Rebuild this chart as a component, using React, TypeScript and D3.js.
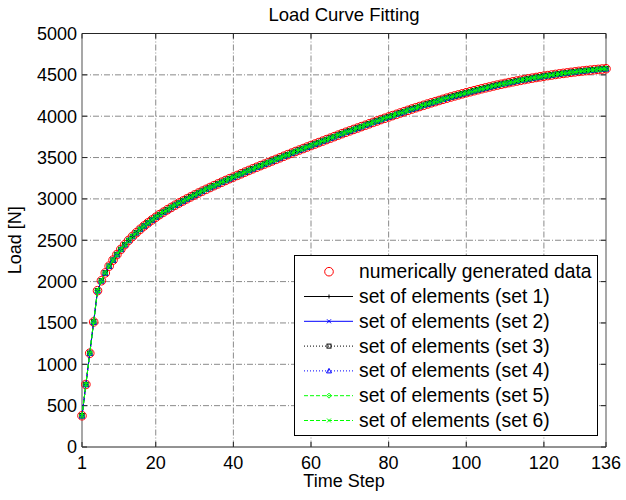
import React from 'react';
import * as d3 from 'd3';

// ---- data ----
const timeSteps: number[] = d3.range(1, 137);
const loadData: number[] = [
  378, 756, 1134, 1512, 1890, 2010, 2105, 2187, 2260, 2327,
  2389, 2446, 2498, 2546, 2591, 2633, 2673, 2710, 2745, 2778,
  2810, 2840, 2869, 2897, 2924, 2950, 2975, 3000, 3024, 3048,
  3071, 3094, 3116, 3138, 3160, 3181, 3202, 3223, 3244, 3264,
  3284, 3304, 3324, 3344, 3364, 3383, 3402, 3421, 3440, 3459,
  3478, 3497, 3516, 3535, 3554, 3573, 3591, 3609, 3627, 3645,
  3663, 3681, 3699, 3717, 3735, 3753, 3771, 3789, 3806, 3823,
  3840, 3857, 3874, 3891, 3908, 3925, 3942, 3959, 3975, 3991,
  4007, 4023, 4039, 4055, 4071, 4087, 4102, 4117, 4132, 4147,
  4162, 4176, 4190, 4204, 4218, 4232, 4245, 4258, 4271, 4284,
  4296, 4308, 4320, 4332, 4343, 4354, 4365, 4376, 4386, 4396,
  4406, 4416, 4425, 4434, 4443, 4452, 4460, 4468, 4476, 4484,
  4491, 4498, 4505, 4512, 4518, 4524, 4530, 4536, 4542, 4547,
  4552, 4557, 4562, 4566, 4570, 4574,
];
// fitted element sets coincide with the generated data at this resolution
const set1: number[] = loadData;
const set2: number[] = loadData;
const set3: number[] = loadData;
const set4: number[] = loadData;
const set5: number[] = loadData;
const set6: number[] = loadData;

const xTicks: number[] = [1, 20, 40, 60, 80, 100, 120, 136];
const yTicks: number[] = [0, 500, 1000, 1500, 2000, 2500, 3000, 3500, 4000, 4500, 5000];
const dataLabel = 'numerically generated data';
const setLabels: string[] = [
  'set of elements (set 1)',
  'set of elements (set 2)',
  'set of elements (set 3)',
  'set of elements (set 4)',
  'set of elements (set 5)',
  'set of elements (set 6)',
];

type MarkerKind = 'plus' | 'x' | 'square' | 'triangle' | 'diamond' | 'circle';
interface SetStyle { values: number[]; color: string; dash: string; marker: MarkerKind; }
const setStyles: SetStyle[] = [
  { values: set1, color: '#000000', dash: '', marker: 'plus' },
  { values: set2, color: '#0000ff', dash: '', marker: 'x' },
  { values: set3, color: '#000000', dash: '1,2', marker: 'square' },
  { values: set4, color: '#0000ff', dash: '1,2', marker: 'triangle' },
  { values: set5, color: '#00ff00', dash: '4,2', marker: 'diamond' },
  { values: set6, color: '#00ff00', dash: '4,2', marker: 'x' },
];

const W = 626, H = 500;
const L = 82, R = 606, T = 33.5, B = 447;
const FONT = '"Liberation Sans", Arial, Helvetica, sans-serif';

function Marker({ kind, cx, cy, color, s = 2.2 }: { kind: MarkerKind; cx: number; cy: number; color: string; s?: number }) {
  const common = { stroke: color, strokeWidth: 1, fill: 'none' };
  switch (kind) {
    case 'plus':
      return <path d={`M${cx - s},${cy}H${cx + s}M${cx},${cy - s}V${cy + s}`} {...common} />;
    case 'x':
      return <path d={`M${cx - s},${cy - s}L${cx + s},${cy + s}M${cx - s},${cy + s}L${cx + s},${cy - s}`} {...common} />;
    case 'square':
      return <rect x={cx - s} y={cy - s} width={2 * s} height={2 * s} {...common} />;
    case 'triangle':
      return <path d={`M${cx},${cy - s - 0.5}L${cx + s + 0.5},${cy + s}L${cx - s - 0.5},${cy + s}Z`} {...common} />;
    case 'diamond':
      return <path d={`M${cx},${cy - s - 0.5}L${cx + s + 0.5},${cy}L${cx},${cy + s + 0.5}L${cx - s - 0.5},${cy}Z`} {...common} />;
    case 'circle':
      return <circle cx={cx} cy={cy} r={s} {...common} />;
  }
  return null;
}

export default function App() {
  const x = d3.scaleLinear().domain([1, 136]).range([L, R]);
  const y = d3.scaleLinear().domain([0, 5000]).range([B, T]);
  const line = d3.line<number>().x((_, i) => x(timeSteps[i])).y((d) => y(d));

  const gridColor = '#8a8a8a';
  const gridDash = '6,2,1,2';

  const legX = 294.5, legY = 255.5, legW = 303, legH = 180;
  const rowY0 = 271.7, rowDy = 24.8;
  const sampleX0 = 304, sampleX1 = 353, sampleMid = 329, textX = 359;

  return (
    <svg width={W} height={H} style={{ position: 'absolute', left: 0, top: 0, background: '#fff' }} fontFamily={FONT}>
      <rect x={0} y={0} width={W} height={H} fill="#fff" />
      {/* grid */}
      {xTicks.filter((t) => t !== 1 && t !== 136).map((t) => (
        <line key={'gx' + t} x1={x(t)} x2={x(t)} y1={T} y2={B} stroke={gridColor} strokeDasharray={gridDash} strokeWidth={1} />
      ))}
      {yTicks.filter((t) => t !== 0 && t !== 5000).map((t) => (
        <line key={'gy' + t} x1={L} x2={R} y1={y(t)} y2={y(t)} stroke={gridColor} strokeDasharray={gridDash} strokeWidth={1} />
      ))}
      {/* axes box */}
      <line x1={L} x2={R} y1={T} y2={T} stroke="#262626" strokeWidth={1} />
      <line x1={L} x2={R} y1={B} y2={B} stroke="#262626" strokeWidth={1} />
      <line x1={L} x2={L} y1={T} y2={B} stroke="#8a8a8a" strokeWidth={1.5} />
      <line x1={R} x2={R} y1={T} y2={B} stroke="#8a8a8a" strokeWidth={1.5} />
      {/* ticks */}
      {xTicks.map((t) => (
        <g key={'tx' + t}>
          <line x1={x(t)} x2={x(t)} y1={B} y2={B - 5} stroke="#262626" />
          <line x1={x(t)} x2={x(t)} y1={T} y2={T + 5} stroke="#262626" />
          <text x={x(t)} y={468.5} fontSize={18} textAnchor="middle" fill="#000">{t}</text>
        </g>
      ))}
      {yTicks.map((t) => (
        <g key={'ty' + t}>
          <line x1={L} x2={L + 5} y1={y(t)} y2={y(t)} stroke="#262626" />
          <line x1={R} x2={R - 5} y1={y(t)} y2={y(t)} stroke="#262626" />
          <text x={77} y={y(t) + 6.3} fontSize={18} textAnchor="end" fill="#000">{t}</text>
        </g>
      ))}
      {/* title and labels */}
      <text x={(L + R) / 2} y={20.7} fontSize={18.5} textAnchor="middle" fill="#000">Load Curve Fitting</text>
      <text x={(L + R) / 2} y={487} fontSize={18} textAnchor="middle" fill="#000">Time Step</text>
      <text transform={`translate(21,${(T + B) / 2}) rotate(-90)`} fontSize={18} textAnchor="middle" fill="#000">Load [N]</text>

      {/* data circles */}
      {loadData.map((v, i) => (
        <circle key={'d' + i} cx={x(timeSteps[i])} cy={y(v)} r={4.3} fill="none" stroke="#ff0000" strokeWidth={1} />
      ))}
      {/* fitted sets */}
      {setStyles.map((s, k) => (
        <g key={'s' + k}>
          <path d={line(s.values) || ''} fill="none" stroke={s.color} strokeWidth={1} strokeDasharray={s.dash || undefined} />
          {s.values.map((v, i) => (
            <Marker key={i} kind={s.marker} cx={x(timeSteps[i])} cy={y(v)} color={s.color} />
          ))}
        </g>
      ))}

      {/* legend */}
      <rect x={legX} y={legY} width={legW} height={legH} fill="#fff" stroke="#000" strokeWidth={1} />
      <circle cx={sampleMid} cy={rowY0} r={4.3} fill="none" stroke="#ff0000" />
      <text x={textX} y={rowY0 + 6.5} fontSize={19.3} fill="#000">{dataLabel}</text>
      {setStyles.map((s, k) => {
        const cy = rowY0 + (k + 1) * rowDy;
        return (
          <g key={'l' + k}>
            <line x1={sampleX0} x2={sampleX1} y1={cy} y2={cy} stroke={s.color} strokeWidth={1} strokeDasharray={s.dash || undefined} />
            <Marker kind={s.marker} cx={sampleMid} cy={cy} color={s.color} s={2} />
            <text x={textX} y={cy + 6.5} fontSize={19.3} fill="#000">{setLabels[k]}</text>
          </g>
        );
      })}
    </svg>
  );
}
